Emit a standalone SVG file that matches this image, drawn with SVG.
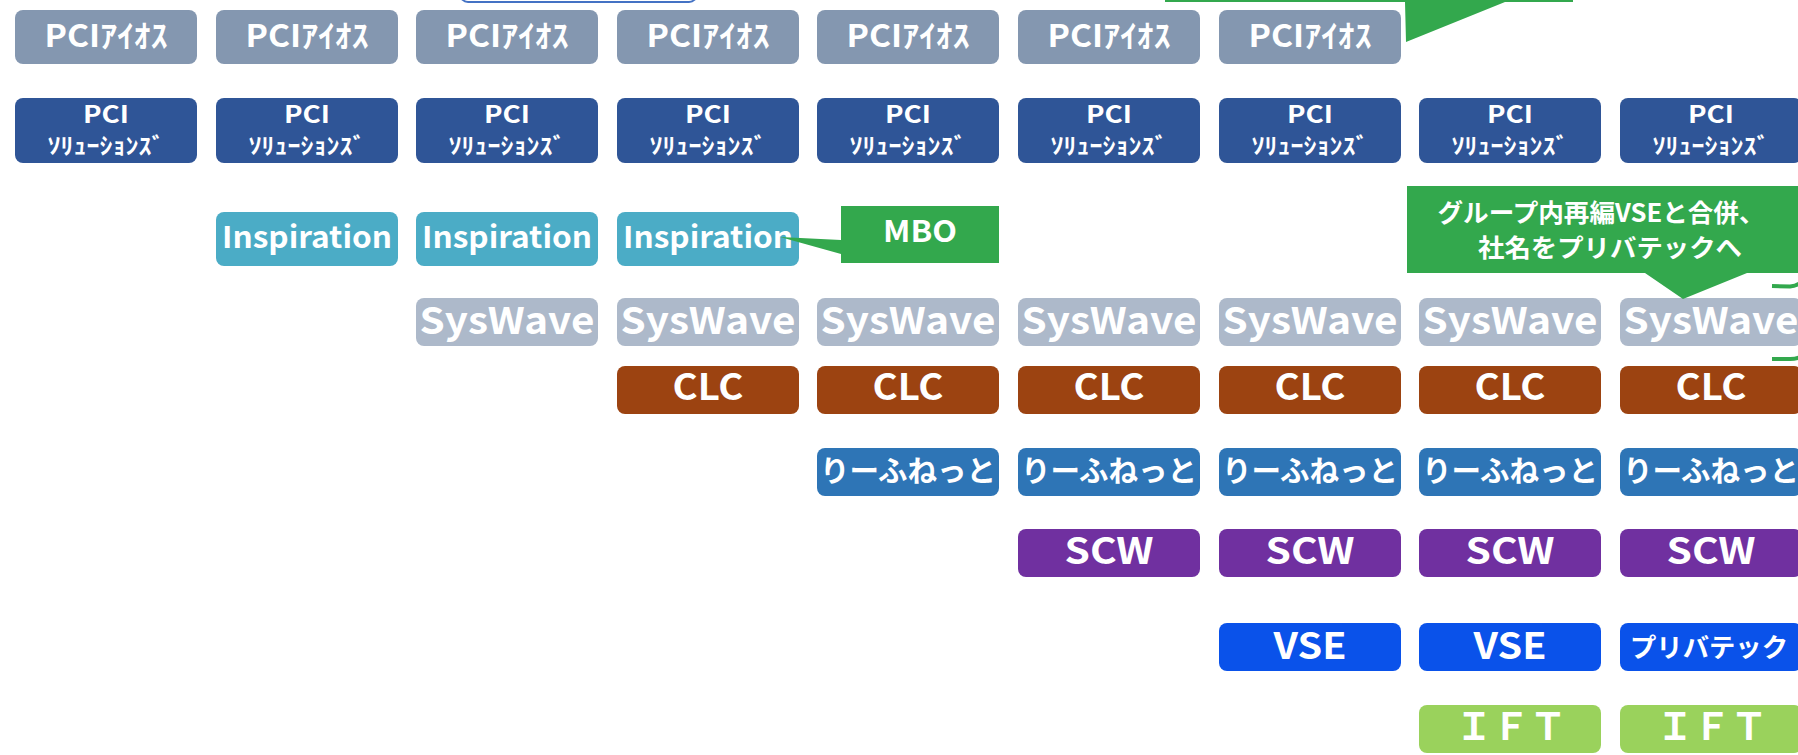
<svg xmlns="http://www.w3.org/2000/svg" width="1798" height="755" viewBox="0 0 1798 755">
<style>
text{font-family:"Noto Sans CJK JP","Noto Sans",sans-serif;font-weight:bold;fill:#fff;text-anchor:middle}
.r1{fill:#8497B0}.r2{fill:#2F5597}.r3{fill:#4BACC6}.r4{fill:#ADB9CA}.r5{fill:#9C4311}.r6{fill:#2E75B6}.r7{fill:#7030A0}.r8{fill:#0A52EA}.r9{fill:#9AD25C}
.co{fill:#33A84D}
.t1{font-size:31px}.t2a{font-size:24px}.t2b{font-size:23px}.t3{font-size:30px}.t4{font-size:37px}.t5{font-size:36px}.t6{font-size:29px}.t7{font-size:36px}.t8{font-size:36px}.t8b{font-size:26px}.t9{font-size:37px}
.ct{font-size:25px}
.br{fill:none;stroke:#33A84D;stroke-width:4}
</style>
<defs>
<rect id="b54" width="182" height="54" rx="8"/>
<rect id="b65" width="182" height="65" rx="8"/>
<rect id="b48" width="182" height="48" rx="8"/>
</defs>

<g id="top-partial-box"><rect x="460" y="-40" width="237" height="42" rx="8" fill="#fff" stroke="#4472C4" stroke-width="2"/></g>

<g id="row-pci-ios">
<g id="ios-0"><use href="#b54" x="15" y="10" class="r1"/><text class="t1" x="106" y="47" textLength="123" lengthAdjust="spacingAndGlyphs">PCIｱｲｵｽ</text></g>
<g id="ios-1"><use href="#b54" x="216" y="10" class="r1"/><text class="t1" x="307" y="47" textLength="123" lengthAdjust="spacingAndGlyphs">PCIｱｲｵｽ</text></g>
<g id="ios-2"><use href="#b54" x="416" y="10" class="r1"/><text class="t1" x="507" y="47" textLength="123" lengthAdjust="spacingAndGlyphs">PCIｱｲｵｽ</text></g>
<g id="ios-3"><use href="#b54" x="617" y="10" class="r1"/><text class="t1" x="708" y="47" textLength="123" lengthAdjust="spacingAndGlyphs">PCIｱｲｵｽ</text></g>
<g id="ios-4"><use href="#b54" x="817" y="10" class="r1"/><text class="t1" x="908" y="47" textLength="123" lengthAdjust="spacingAndGlyphs">PCIｱｲｵｽ</text></g>
<g id="ios-5"><use href="#b54" x="1018" y="10" class="r1"/><text class="t1" x="1109" y="47" textLength="123" lengthAdjust="spacingAndGlyphs">PCIｱｲｵｽ</text></g>
<g id="ios-6"><use href="#b54" x="1219" y="10" class="r1"/><text class="t1" x="1310" y="47" textLength="123" lengthAdjust="spacingAndGlyphs">PCIｱｲｵｽ</text></g>
</g>

<g id="row-pci-sol">
<g id="sol-0"><use href="#b65" x="15" y="98" class="r2"/><text class="t2a" x="106" y="123" textLength="46" lengthAdjust="spacingAndGlyphs">PCI</text><text class="t2b" x="106" y="154" textLength="117" lengthAdjust="spacingAndGlyphs">ｿﾘｭｰｼｮﾝｽﾞ</text></g>
<g id="sol-1"><use href="#b65" x="216" y="98" class="r2"/><text class="t2a" x="307" y="123" textLength="46" lengthAdjust="spacingAndGlyphs">PCI</text><text class="t2b" x="307" y="154" textLength="117" lengthAdjust="spacingAndGlyphs">ｿﾘｭｰｼｮﾝｽﾞ</text></g>
<g id="sol-2"><use href="#b65" x="416" y="98" class="r2"/><text class="t2a" x="507" y="123" textLength="46" lengthAdjust="spacingAndGlyphs">PCI</text><text class="t2b" x="507" y="154" textLength="117" lengthAdjust="spacingAndGlyphs">ｿﾘｭｰｼｮﾝｽﾞ</text></g>
<g id="sol-3"><use href="#b65" x="617" y="98" class="r2"/><text class="t2a" x="708" y="123" textLength="46" lengthAdjust="spacingAndGlyphs">PCI</text><text class="t2b" x="708" y="154" textLength="117" lengthAdjust="spacingAndGlyphs">ｿﾘｭｰｼｮﾝｽﾞ</text></g>
<g id="sol-4"><use href="#b65" x="817" y="98" class="r2"/><text class="t2a" x="908" y="123" textLength="46" lengthAdjust="spacingAndGlyphs">PCI</text><text class="t2b" x="908" y="154" textLength="117" lengthAdjust="spacingAndGlyphs">ｿﾘｭｰｼｮﾝｽﾞ</text></g>
<g id="sol-5"><use href="#b65" x="1018" y="98" class="r2"/><text class="t2a" x="1109" y="123" textLength="46" lengthAdjust="spacingAndGlyphs">PCI</text><text class="t2b" x="1109" y="154" textLength="117" lengthAdjust="spacingAndGlyphs">ｿﾘｭｰｼｮﾝｽﾞ</text></g>
<g id="sol-6"><use href="#b65" x="1219" y="98" class="r2"/><text class="t2a" x="1310" y="123" textLength="46" lengthAdjust="spacingAndGlyphs">PCI</text><text class="t2b" x="1310" y="154" textLength="117" lengthAdjust="spacingAndGlyphs">ｿﾘｭｰｼｮﾝｽﾞ</text></g>
<g id="sol-7"><use href="#b65" x="1419" y="98" class="r2"/><text class="t2a" x="1510" y="123" textLength="46" lengthAdjust="spacingAndGlyphs">PCI</text><text class="t2b" x="1510" y="154" textLength="117" lengthAdjust="spacingAndGlyphs">ｿﾘｭｰｼｮﾝｽﾞ</text></g>
<g id="sol-8"><use href="#b65" x="1620" y="98" class="r2"/><text class="t2a" x="1711" y="123" textLength="46" lengthAdjust="spacingAndGlyphs">PCI</text><text class="t2b" x="1711" y="154" textLength="117" lengthAdjust="spacingAndGlyphs">ｿﾘｭｰｼｮﾝｽﾞ</text></g>
</g>

<g id="row-inspiration">
<g id="insp-1"><use href="#b54" x="216" y="212" class="r3"/><text class="t3" x="307" y="248" textLength="170" lengthAdjust="spacingAndGlyphs">Inspiration</text></g>
<g id="insp-2"><use href="#b54" x="416" y="212" class="r3"/><text class="t3" x="507" y="248" textLength="170" lengthAdjust="spacingAndGlyphs">Inspiration</text></g>
<g id="insp-3"><use href="#b54" x="617" y="212" class="r3"/><text class="t3" x="708" y="248" textLength="170" lengthAdjust="spacingAndGlyphs">Inspiration</text></g>
</g>

<g id="row-syswave">
<g id="sw-2"><use href="#b48" x="416" y="298" class="r4"/><text class="t4" x="507" y="334" textLength="175" lengthAdjust="spacingAndGlyphs">SysWave</text></g>
<g id="sw-3"><use href="#b48" x="617" y="298" class="r4"/><text class="t4" x="708" y="334" textLength="175" lengthAdjust="spacingAndGlyphs">SysWave</text></g>
<g id="sw-4"><use href="#b48" x="817" y="298" class="r4"/><text class="t4" x="908" y="334" textLength="175" lengthAdjust="spacingAndGlyphs">SysWave</text></g>
<g id="sw-5"><use href="#b48" x="1018" y="298" class="r4"/><text class="t4" x="1109" y="334" textLength="175" lengthAdjust="spacingAndGlyphs">SysWave</text></g>
<g id="sw-6"><use href="#b48" x="1219" y="298" class="r4"/><text class="t4" x="1310" y="334" textLength="175" lengthAdjust="spacingAndGlyphs">SysWave</text></g>
<g id="sw-7"><use href="#b48" x="1419" y="298" class="r4"/><text class="t4" x="1510" y="334" textLength="175" lengthAdjust="spacingAndGlyphs">SysWave</text></g>
<g id="sw-8"><use href="#b48" x="1620" y="298" class="r4"/><text class="t4" x="1711" y="334" textLength="175" lengthAdjust="spacingAndGlyphs">SysWave</text></g>
</g>

<g id="row-clc">
<g id="clc-3"><use href="#b48" x="617" y="366" class="r5"/><text class="t5" x="708" y="400" textLength="71" lengthAdjust="spacingAndGlyphs">CLC</text></g>
<g id="clc-4"><use href="#b48" x="817" y="366" class="r5"/><text class="t5" x="908" y="400" textLength="71" lengthAdjust="spacingAndGlyphs">CLC</text></g>
<g id="clc-5"><use href="#b48" x="1018" y="366" class="r5"/><text class="t5" x="1109" y="400" textLength="71" lengthAdjust="spacingAndGlyphs">CLC</text></g>
<g id="clc-6"><use href="#b48" x="1219" y="366" class="r5"/><text class="t5" x="1310" y="400" textLength="71" lengthAdjust="spacingAndGlyphs">CLC</text></g>
<g id="clc-7"><use href="#b48" x="1419" y="366" class="r5"/><text class="t5" x="1510" y="400" textLength="71" lengthAdjust="spacingAndGlyphs">CLC</text></g>
<g id="clc-8"><use href="#b48" x="1620" y="366" class="r5"/><text class="t5" x="1711" y="400" textLength="71" lengthAdjust="spacingAndGlyphs">CLC</text></g>
</g>

<g id="row-leafnet">
<g id="lf-4"><use href="#b48" x="817" y="448" class="r6"/><text class="t6" x="908" y="482" textLength="176" lengthAdjust="spacingAndGlyphs">りーふねっと</text></g>
<g id="lf-5"><use href="#b48" x="1018" y="448" class="r6"/><text class="t6" x="1109" y="482" textLength="176" lengthAdjust="spacingAndGlyphs">りーふねっと</text></g>
<g id="lf-6"><use href="#b48" x="1219" y="448" class="r6"/><text class="t6" x="1310" y="482" textLength="176" lengthAdjust="spacingAndGlyphs">りーふねっと</text></g>
<g id="lf-7"><use href="#b48" x="1419" y="448" class="r6"/><text class="t6" x="1510" y="482" textLength="176" lengthAdjust="spacingAndGlyphs">りーふねっと</text></g>
<g id="lf-8"><use href="#b48" x="1620" y="448" class="r6"/><text class="t6" x="1711" y="482" textLength="176" lengthAdjust="spacingAndGlyphs">りーふねっと</text></g>
</g>

<g id="row-scw">
<g id="scw-5"><use href="#b48" x="1018" y="529" class="r7"/><text class="t7" x="1109" y="564" textLength="89" lengthAdjust="spacingAndGlyphs">SCW</text></g>
<g id="scw-6"><use href="#b48" x="1219" y="529" class="r7"/><text class="t7" x="1310" y="564" textLength="89" lengthAdjust="spacingAndGlyphs">SCW</text></g>
<g id="scw-7"><use href="#b48" x="1419" y="529" class="r7"/><text class="t7" x="1510" y="564" textLength="89" lengthAdjust="spacingAndGlyphs">SCW</text></g>
<g id="scw-8"><use href="#b48" x="1620" y="529" class="r7"/><text class="t7" x="1711" y="564" textLength="89" lengthAdjust="spacingAndGlyphs">SCW</text></g>
</g>

<g id="row-vse">
<g id="vse-6"><use href="#b48" x="1219" y="623" class="r8"/><text class="t8" x="1310" y="659" textLength="73" lengthAdjust="spacingAndGlyphs">VSE</text></g>
<g id="vse-7"><use href="#b48" x="1419" y="623" class="r8"/><text class="t8" x="1510" y="659" textLength="73" lengthAdjust="spacingAndGlyphs">VSE</text></g>
<g id="privatec-8"><use href="#b48" x="1620" y="623" class="r8"/><text class="t8b" x="1709" y="657" textLength="158" lengthAdjust="spacingAndGlyphs">プリバテック</text></g>
</g>

<g id="row-ift">
<g id="ift-7"><use href="#b48" x="1419" y="705" class="r9"/><text class="t9" x="1511" y="740">ＩＦＴ</text></g>
<g id="ift-8"><use href="#b48" x="1620" y="705" class="r9"/><text class="t9" x="1712" y="740">ＩＦＴ</text></g>
</g>

<g id="callout-top"><path class="co" d="M1165,-40 H1573 V2 H1505 L1406,42 L1405,2 H1165 Z"/></g>
<g id="callout-mbo"><path class="co" d="M841,206 H999 V263 H841 V254 L780,237 L841,240 Z"/><text class="t3" x="920" y="242" textLength="74" lengthAdjust="spacingAndGlyphs">MBO</text></g>
<g id="callout-merge"><path class="co" d="M1407,186 H1800 V273 H1747 L1683,299 L1645,273 H1407 Z"/><text class="ct" x="1601" y="222" textLength="327" lengthAdjust="spacingAndGlyphs">グループ内再編VSEと合併、</text><text class="ct" x="1610" y="257" textLength="264" lengthAdjust="spacingAndGlyphs">社名をプリバテックへ</text></g>

<g id="connectors">
<path class="br" d="M1772,286 L1790,286.5 Q1796,286 1800,283"/>
<path class="br" d="M1772,359 L1790,359 Q1796,359 1800,357"/>
</g>
</svg>
